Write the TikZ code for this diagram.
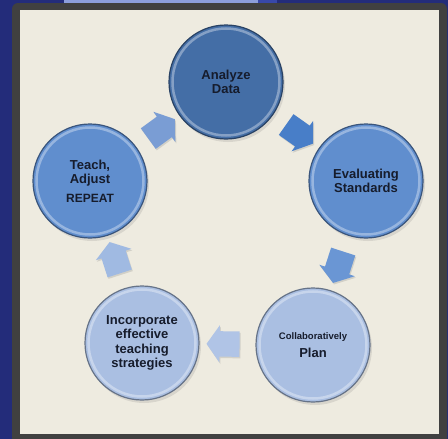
\documentclass[tikz,border=0pt]{standalone}
\usepackage{fontspec}
\setmainfont{Liberation Sans}
\usetikzlibrary{shapes.arrows,shadows,calc}

\definecolor{slide}{RGB}{35,44,122}
\definecolor{tabA}{RGB}{140,158,220}
\definecolor{tabB}{RGB}{56,72,170}
\definecolor{frame}{RGB}{64,64,64}
\definecolor{paper}{RGB}{238,235,224}
\definecolor{ink}{RGB}{22,28,44}
\definecolor{darkblue}{RGB}{68,110,166}
\definecolor{midblue}{RGB}{96,142,206}
\definecolor{paleblue}{RGB}{170,191,226}
\definecolor{arrowA}{RGB}{72,126,200}
\definecolor{arrowB}{RGB}{106,150,212}
\definecolor{arrowC}{RGB}{176,196,230}
\definecolor{arrowD}{RGB}{160,186,226}
\definecolor{arrowE}{RGB}{122,157,212}

\begin{document}
\begin{tikzpicture}[x=1pt, y=-1pt,
    stage/.style={circle, minimum size=114pt, inner sep=0pt, fill=#1, draw=#1!60!black, line width=1.2pt,
        align=center, text=ink, font=\bfseries\fontsize{13}{14.5}\selectfont,
        drop shadow={shadow xshift=2pt, shadow yshift=-3pt, opacity=0.2},
        path picture={
            \draw[white, opacity=0.35, line width=2.5pt] (path picture bounding box.center) circle (53.5pt);}},
    turn/.style={single arrow, fill=#1, draw=none, inner xsep=0pt, inner ysep=12.5pt, minimum height=33pt,
        single arrow head extend=6pt, single arrow tip angle=110,
        drop shadow={shadow xshift=1pt, shadow yshift=-1.5pt, opacity=0.25}}
]
\clip (0,0) rectangle (448,439);

% Slide background and frame
\fill[slide] (0,0) rectangle (448,439);
\fill[tabA] (64,0) rectangle (258,3);
\fill[tabB] (258,0) rectangle (277,3);
\fill[frame, rounded corners=6pt] (12,3) rectangle (447,450);
\fill[paper] (20,10) rectangle (439,434);

% Stages
\node[stage=darkblue] (data) at (226,82) {Analyze\\Data};
\node[stage=midblue] (eval) at (366,181) {Evaluating\\Standards};
\node[stage=paleblue] (plan) at (313,345) {{\fontsize{9.5}{11}\selectfont Collaboratively}\\[3pt]Plan};
\node[stage=paleblue] (teach) at (142,343) {Incorporate\\effective\\teaching\\strategies};
\node[stage=midblue] (adjust) at (90,181) {Teach,\\Adjust\\[4pt]{\fontsize{12}{14}\selectfont REPEAT}};

% Connections
\path let \p1=($(eval)-(data)$) in
    node[turn=arrowA, rotate={atan2(\y1,\x1)}] (a1) at ($(data)!0.5!(eval)$) {};
\path let \p1=($(plan)-(eval)$) in
    node[turn=arrowB, rotate={atan2(\y1,\x1)}] (a2) at ($(eval)!0.5!(plan)$) {};
\path let \p1=($(teach)-(plan)$) in
    node[turn=arrowC, rotate={atan2(\y1,\x1)}] (a3) at ($(plan)!0.5!(teach)$) {};
\path let \p1=($(adjust)-(teach)$) in
    node[turn=arrowD, rotate={atan2(\y1,\x1)}] (a4) at ($(teach)!0.5!(adjust)$) {};
\path let \p1=($(data)-(adjust)$) in
    node[turn=arrowE, rotate={atan2(\y1,\x1)}] (a5) at ($(adjust)!0.5!(data)$) {};
\end{tikzpicture}
\end{document}
